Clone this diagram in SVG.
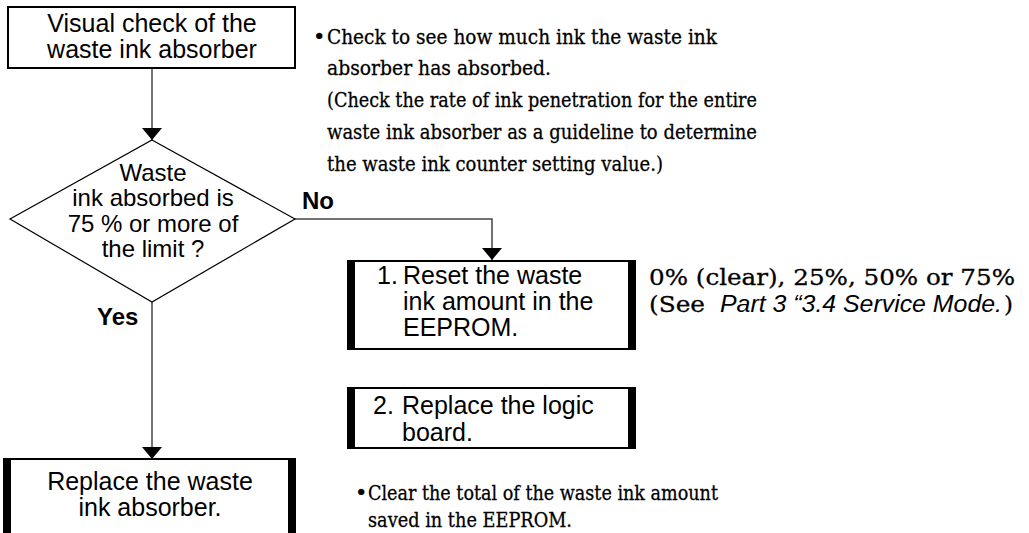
<svg xmlns="http://www.w3.org/2000/svg" width="1029" height="533" viewBox="0 0 1029 533">
<style>
.sans{font-family:"Liberation Sans",Arial,sans-serif;font-size:25px;fill:#000}
.dsans{font-family:"Liberation Sans",Arial,sans-serif;font-size:24px;fill:#000}
.bold{font-family:"Liberation Sans",Arial,sans-serif;font-size:24px;font-weight:bold;fill:#000}
.serif{font-family:"DejaVu Serif","Liberation Serif",serif;font-size:21px;fill:#000;stroke:#000;stroke-width:0.3}
.big{font-size:23px}
.ital{font-family:"Liberation Sans",Arial,sans-serif;font-style:italic;font-size:23px;fill:#000}
.box{fill:#fff;stroke:#000;stroke-width:2}
.bar{fill:#000}
.conn{fill:none;stroke:#444;stroke-width:1.5}
</style>
<defs>
<marker id="arr" viewBox="0 0 12 20" refX="12" refY="10" markerWidth="12" markerHeight="20" markerUnits="userSpaceOnUse" orient="auto">
<path d="M0,0 L12,10 L0,20 Z" fill="#000"/>
</marker>
</defs>
<rect width="1029" height="533" fill="#fff"/>

<g id="connectors">
<path class="conn" d="M152,68 V140" marker-end="url(#arr)"/>
<path class="conn" d="M152,302 V459" marker-end="url(#arr)"/>
<path class="conn" d="M295,219 H492 V260" marker-end="url(#arr)"/>
</g>

<g id="node-visual-check">
<rect class="box" x="8" y="7" width="287" height="61"/>
<text class="sans" text-anchor="middle"><tspan x="152" y="32">Visual check of the</tspan><tspan x="152" y="58">waste ink absorber</tspan></text>
</g>

<g id="node-decision">
<polygon points="152,140 295,219 152,302 10,219" fill="#fff" stroke="#000" stroke-width="1.2"/>
<text class="dsans" text-anchor="middle"><tspan x="153" y="181">Waste</tspan><tspan x="153" y="206">ink absorbed is</tspan><tspan x="153" y="232">75 % or more of</tspan><tspan x="153" y="257">the limit ?</tspan></text>
<text class="bold" x="302" y="209">No</text>
<text class="bold" x="97" y="325">Yes</text>
</g>

<g id="node-reset">
<rect class="box" x="348" y="261" width="287" height="88"/>
<rect class="bar" x="347" y="260" width="8" height="90"/>
<rect class="bar" x="628" y="260" width="8" height="90"/>
<text class="sans"><tspan x="377" y="284">1.</tspan><tspan x="403" y="284">Reset the waste</tspan><tspan x="403" y="310">ink amount in the</tspan><tspan x="403" y="336">EEPROM.</tspan></text>
</g>

<g id="note-reset">
<text class="serif big" x="649" y="285" textLength="366" lengthAdjust="spacingAndGlyphs">0% (clear), 25%, 50% or 75%</text>
<text class="serif big" x="649" y="312" textLength="56" lengthAdjust="spacingAndGlyphs">(See</text>
<text class="ital" x="720" y="312" textLength="282" lengthAdjust="spacingAndGlyphs">Part 3 “3.4 Service Mode.</text>
<text class="serif big" x="1004" y="312">)</text>
</g>

<g id="node-logic">
<rect class="box" x="348" y="388" width="287" height="60"/>
<rect class="bar" x="347" y="387" width="8" height="62"/>
<rect class="bar" x="628" y="387" width="8" height="62"/>
<text class="sans"><tspan x="373" y="414">2.</tspan><tspan x="402" y="414">Replace the logic</tspan><tspan x="402" y="441">board.</tspan></text>
</g>

<g id="node-replace">
<rect class="box" x="5" y="459" width="286" height="80"/>
<rect class="bar" x="3" y="458" width="8" height="80"/>
<rect class="bar" x="288" y="458" width="8" height="80"/>
<text class="sans" text-anchor="middle"><tspan x="150" y="490">Replace the waste</tspan><tspan x="150" y="516">ink absorber.</tspan></text>
</g>

<g id="note-check">
<text class="serif"><tspan x="313" y="44">•</tspan><tspan x="327" y="44" textLength="390" lengthAdjust="spacingAndGlyphs">Check to see how much ink the waste ink</tspan><tspan x="327" y="75" textLength="224" lengthAdjust="spacingAndGlyphs">absorber has absorbed.</tspan><tspan x="327" y="107" textLength="430" lengthAdjust="spacingAndGlyphs">(Check the rate of ink penetration for the entire</tspan><tspan x="327" y="139" textLength="430" lengthAdjust="spacingAndGlyphs">waste ink absorber as a guideline to determine</tspan><tspan x="327" y="171" textLength="336" lengthAdjust="spacingAndGlyphs">the waste ink counter setting value.)</tspan></text>
</g>

<g id="note-clear">
<text class="serif"><tspan x="355" y="500">•</tspan><tspan x="368" y="500" textLength="350" lengthAdjust="spacingAndGlyphs">Clear the total of the waste ink amount</tspan><tspan x="368" y="527" textLength="204" lengthAdjust="spacingAndGlyphs">saved in the EEPROM.</tspan></text>
</g>
</svg>
